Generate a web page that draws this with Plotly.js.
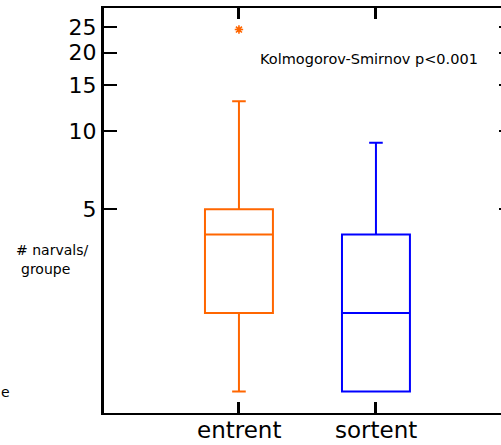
<!DOCTYPE html>
<html>
<head>
<meta charset="utf-8">
<script src="https://cdn.plot.ly/plotly-3.0.1.min.js"></script>
<style>
html,body{margin:0;padding:0;overflow:hidden;background:#fff;}
#chart{width:520px;height:445px;}
</style>
</head>
<body>
<div id="chart"></div>
<script>
// Data
var categories = ['entrent', 'sortent'];
var lowerWhisker = [1, 1];
var q1Values = [2, 1];
var medianValues = [4, 2];
var q3Values = [5, 4];
var upperWhisker = [13, 9];
var outlierCategory = ['entrent'];
var outlierValues = [24.5];
var boxColors = ['#FF6600', '#0000FF'];
var yTickValues = [5, 10, 15, 20, 25];
var yTickLabels = ['5', '10', '15', '20', '25'];

var traces = categories.map(function (c, i) {
  return {
    type: 'box',
    x: [c],
    q1: [q1Values[i]],
    median: [medianValues[i]],
    q3: [q3Values[i]],
    lowerfence: [lowerWhisker[i]],
    upperfence: [upperWhisker[i]],
    width: 0.496,
    whiskerwidth: 0.2,
    line: {color: boxColors[i], width: 2},
    fillcolor: 'rgba(0,0,0,0)',
    boxpoints: false,
    hoverinfo: 'skip',
    showlegend: false
  };
});

traces.push({
  type: 'scatter',
  mode: 'markers',
  x: outlierCategory,
  y: outlierValues,
  marker: {symbol: 'asterisk-open', size: 7, color: boxColors[0], line: {color: boxColors[0], width: 1.6}},
  hoverinfo: 'skip',
  showlegend: false
});

// category labels drawn below the axis
var categoryLabels = categories.map(function (c) {
  return {xref: 'x', yref: 'paper', x: c, y: 0, xanchor: 'center', yanchor: 'top',
          yshift: -2, text: c, showarrow: false,
          font: {family: 'DejaVu Sans', size: 23, color: '#000'}};
});

var layout = {
  width: 520,
  height: 445,
  margin: {l: 104, r: 8, t: 8, b: 32},
  paper_bgcolor: '#ffffff',
  plot_bgcolor: '#ffffff',
  boxmode: 'overlay',
  showlegend: false,
  hovermode: false,
  font: {family: 'DejaVu Sans, sans-serif', color: '#000'},
  xaxis: {
    type: 'category',
    categoryorder: 'array',
    categoryarray: categories,
    range: [-0.985, 1.993],
    showgrid: false,
    zeroline: false,
    showline: true,
    linecolor: '#000',
    linewidth: 2,
    mirror: 'ticks',
    ticks: 'inside',
    ticklen: 11,
    tickwidth: 3,
    tickcolor: '#000',
    showticklabels: false
  },
  yaxis: {
    type: 'log',
    range: [-0.083, 1.472],
    tickmode: 'array',
    tickvals: yTickValues,
    ticktext: yTickLabels,
    showgrid: false,
    zeroline: false,
    showline: true,
    linecolor: '#000',
    linewidth: 3,
    mirror: 'ticks',
    ticks: 'inside',
    ticklen: 13,
    tickwidth: 2,
    tickcolor: '#000',
    tickfont: {family: 'DejaVu Sans', size: 22, color: '#000'}
  },
  annotations: categoryLabels.concat([
    {xref: 'paper', yref: 'paper', x: 0.378, y: 0.874, xanchor: 'left', yanchor: 'middle',
     text: 'Kolmogorov-Smirnov p<0.001', showarrow: false,
     font: {family: 'DejaVu Sans', size: 14.5, color: '#000'}},
    {xref: 'paper', yref: 'paper', x: -0.220, y: 0.402, xanchor: 'left', yanchor: 'middle',
     text: '# narvals/', showarrow: false,
     font: {family: 'DejaVu Sans', size: 14, color: '#000'}},
    {xref: 'paper', yref: 'paper', x: -0.209, y: 0.356, xanchor: 'left', yanchor: 'middle',
     text: 'groupe', showarrow: false,
     font: {family: 'DejaVu Sans', size: 14, color: '#000'}},
    {xref: 'paper', yref: 'paper', x: -0.258, y: 0.052, xanchor: 'left', yanchor: 'middle',
     text: 'e', showarrow: false,
     font: {family: 'DejaVu Sans', size: 14, color: '#000'}}
  ])
};

Plotly.newPlot('chart', traces, layout, {displayModeBar: false, staticPlot: true});
</script>
</body>
</html>
